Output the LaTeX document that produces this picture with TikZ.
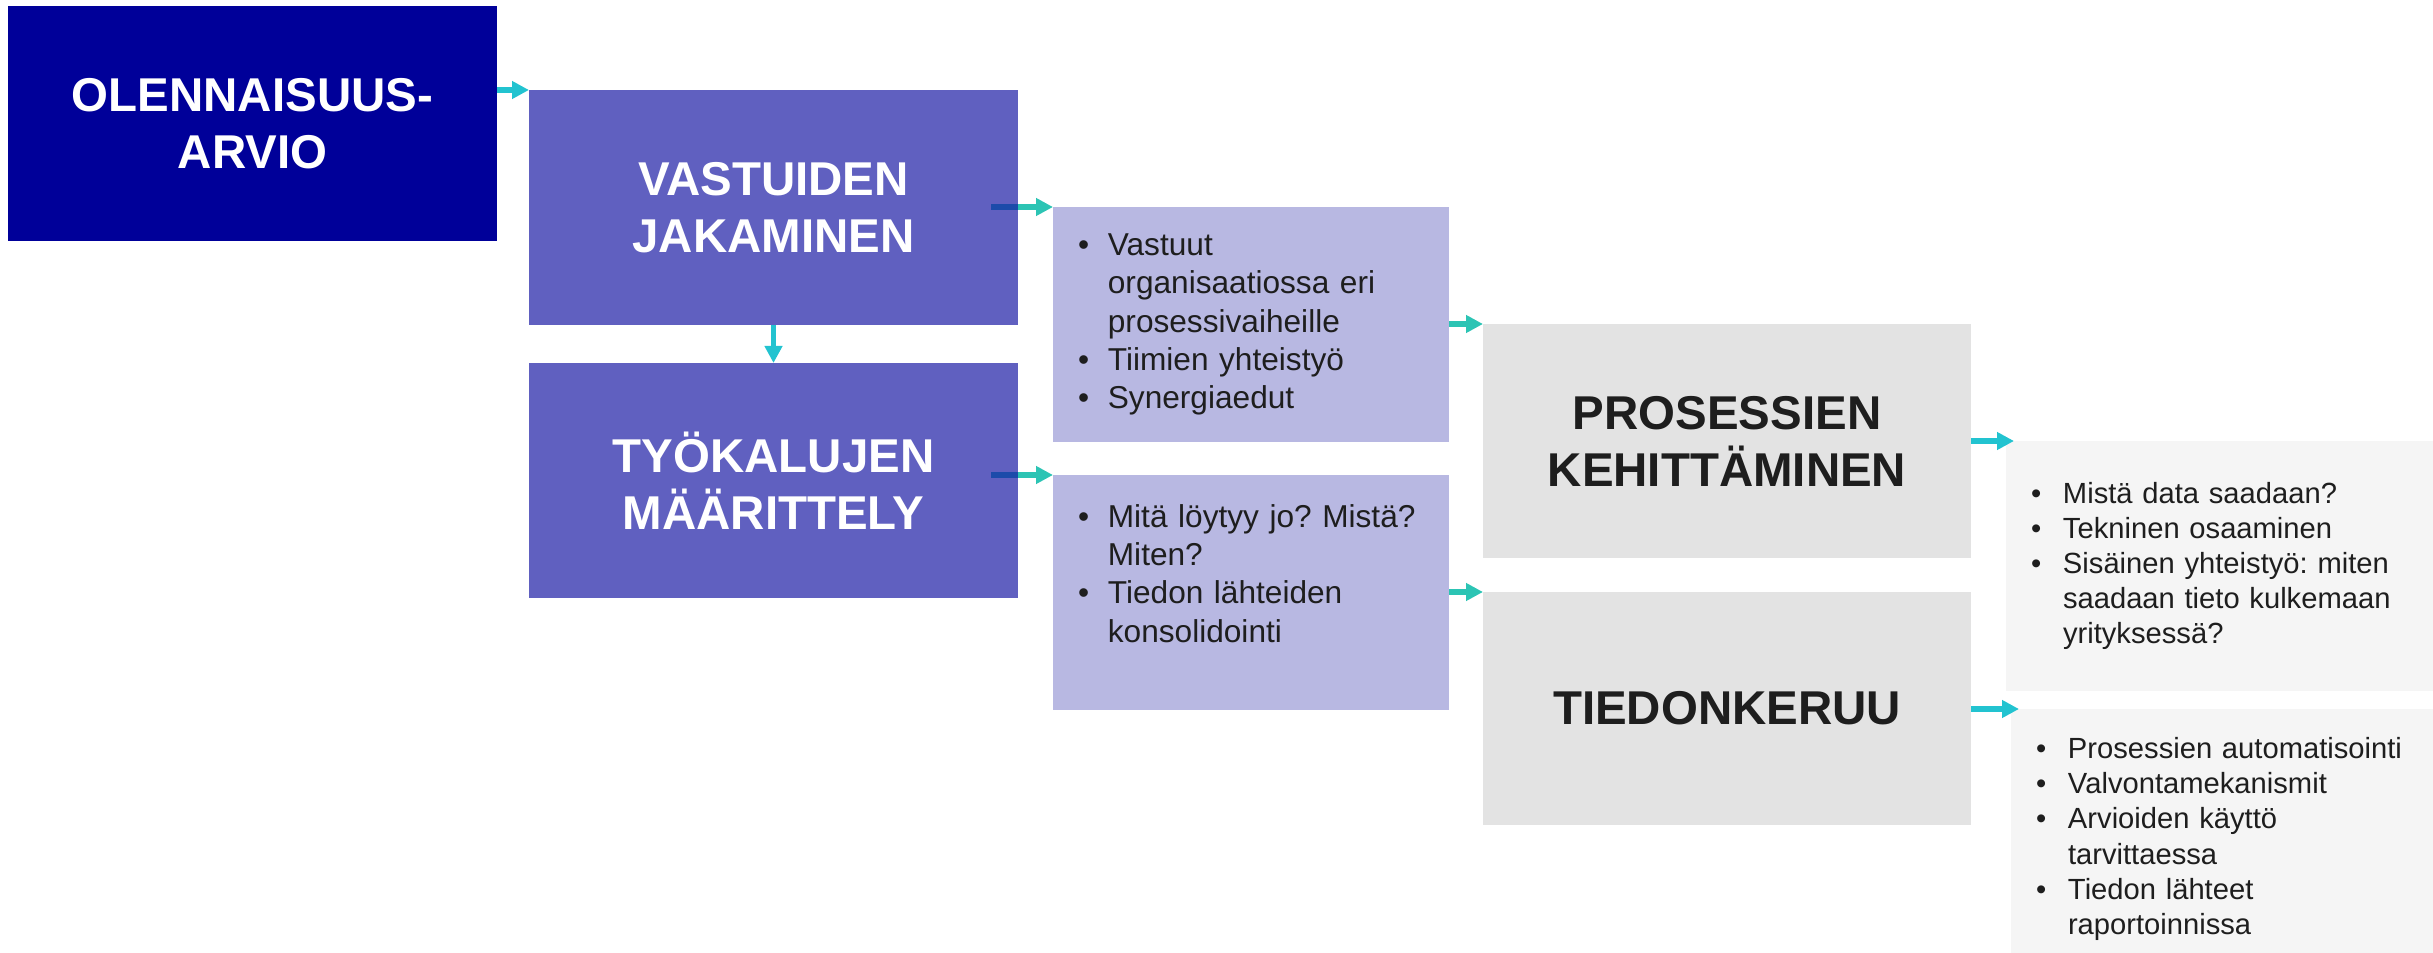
\documentclass[tikz,border=0pt]{standalone}
\usepackage{fontspec}
\setmainfont{Liberation Sans}
\usetikzlibrary{arrows.meta}
\frenchspacing

\definecolor{boxnavy}{RGB}{0,0,153}
\definecolor{boxpurple}{RGB}{96,96,192}
\definecolor{boxlilac}{RGB}{184,184,226}
\definecolor{boxgrey}{RGB}{227,227,227}
\definecolor{boxpale}{RGB}{245,245,245}
\definecolor{inkdark}{RGB}{30,30,30}
\definecolor{arrcyan}{RGB}{34,195,208}
\definecolor{arrteal}{RGB}{44,196,180}
\definecolor{arrdark}{RGB}{28,75,170}

\newcommand{\bl}{\makebox[8.5pt][l]{\textbullet}}
\newcommand{\ind}{\makebox[8.5pt]{}}
\newcommand{\blw}{\makebox[9.1pt][l]{\textbullet}}
\newcommand{\indw}{\makebox[9.1pt]{}}

\tikzset{
  headbox/.style={anchor=north west, inner sep=0pt, outer sep=0pt,
    minimum width=4.89cm, minimum height=2.35cm, align=center,
    font=\fontsize{13.5}{16.2}\selectfont\bfseries},
  listbox/.style={anchor=north west, inner xsep=0.25cm, inner ysep=0pt,
    outer sep=0pt, align=left, text=inkdark,
    font=\fontsize{9}{10.9}\selectfont},
  notebox/.style={anchor=north west, inner xsep=0.25cm, inner ysep=0pt,
    outer sep=0pt, align=left, text=inkdark, fill=boxpale,
    font=\fontsize{8.3}{10}\selectfont},
  arr/.style={line width=0.055cm, -{Triangle[length=0.17cm,width=0.17cm]}},
}

\begin{document}
\begin{tikzpicture}
  \useasboundingbox (0,0) rectangle (24.33,-9.53);

  % Main steps
  \node[headbox, fill=boxnavy, text=white] (olen) at (0.08,-0.06) {OLENNAISUUS-\\ARVIO};
  \node[headbox, fill=boxpurple, text=white] (vast) at (5.29,-0.90) {VASTUIDEN\\JAKAMINEN};
  \node[headbox, fill=boxpurple, text=white] (tyo) at (5.29,-3.63) {TYÖKALUJEN\\MÄÄRITTELY};

  % Lists beside the steps
  \node[listbox, fill=boxlilac, text width=3.46cm, minimum height=2.35cm] (list1) at (10.53,-2.07)
    {\bl Vastuut\\\ind organisaatiossa eri\\\ind prosessivaiheille\\\bl Tiimien yhteistyö\\\bl Synergiaedut};
  \node[listbox, fill=boxlilac, text width=3.46cm, minimum height=2.35cm] (list2) at (10.53,-4.75)
    {\bl Mitä löytyy jo? Mistä?\\\ind Miten?\\\bl Tiedon lähteiden\\\ind konsolidointi\\\mbox{}};

  % Grey steps
  \node[headbox, fill=boxgrey, text=inkdark, minimum width=4.88cm, minimum height=2.34cm] (pros) at (14.83,-3.24) {PROSESSIEN\\KEHITTÄMINEN};
  \node[headbox, fill=boxgrey, text=inkdark, minimum width=4.88cm, minimum height=2.33cm] (tied) at (14.83,-5.92) {TIEDONKERUU};

  % Notes on the right
  \node[notebox, text width=3.77cm, minimum height=2.50cm] (note1) at (20.06,-4.41)
    {\blw Mistä data saadaan?\\\blw Tekninen osaaminen\\\blw Sisäinen yhteistyö: miten\\\indw saadaan tieto kulkemaan\\\indw yrityksessä?};
  \node[notebox, text width=3.72cm, minimum height=2.44cm] (note2) at (20.11,-7.09)
    {\raisebox{-0.08cm}[\height][\depth]{\parbox{3.72cm}{\raggedright
     \blw Prosessien automatisointi\\\blw Valvontamekanismit\\\blw Arvioiden käyttö\\\indw tarvittaessa\\\blw Tiedon lähteet\\\indw raportoinnissa}}};

  % Arrows
  \draw[arr, arrcyan] (olen.east |- vast.north) -- (vast.north west);
  \draw[arr, arrcyan] (vast.south) -- (tyo.north);
  \draw[line width=0.055cm, arrdark] ([xshift=-0.27cm]vast.east |- list1.north) -- (vast.east |- list1.north);
  \draw[arr, arrteal] (vast.east |- list1.north) -- (list1.north west);
  \draw[line width=0.055cm, arrdark] ([xshift=-0.27cm]tyo.east |- list2.north) -- (tyo.east |- list2.north);
  \draw[arr, arrteal] (tyo.east |- list2.north) -- (list2.north west);
  \draw[arr, arrteal] (list1.east |- pros.north) -- (pros.north west);
  \draw[arr, arrteal] (list2.east |- tied.north) -- (tied.north west);
  \draw[arr, arrcyan, shorten >=-0.08cm] (pros.east |- note1.north) -- (note1.north west);
  \draw[arr, arrcyan, shorten >=-0.08cm] (tied.east |- note2.north) -- (note2.north west);
\end{tikzpicture}
\end{document}
